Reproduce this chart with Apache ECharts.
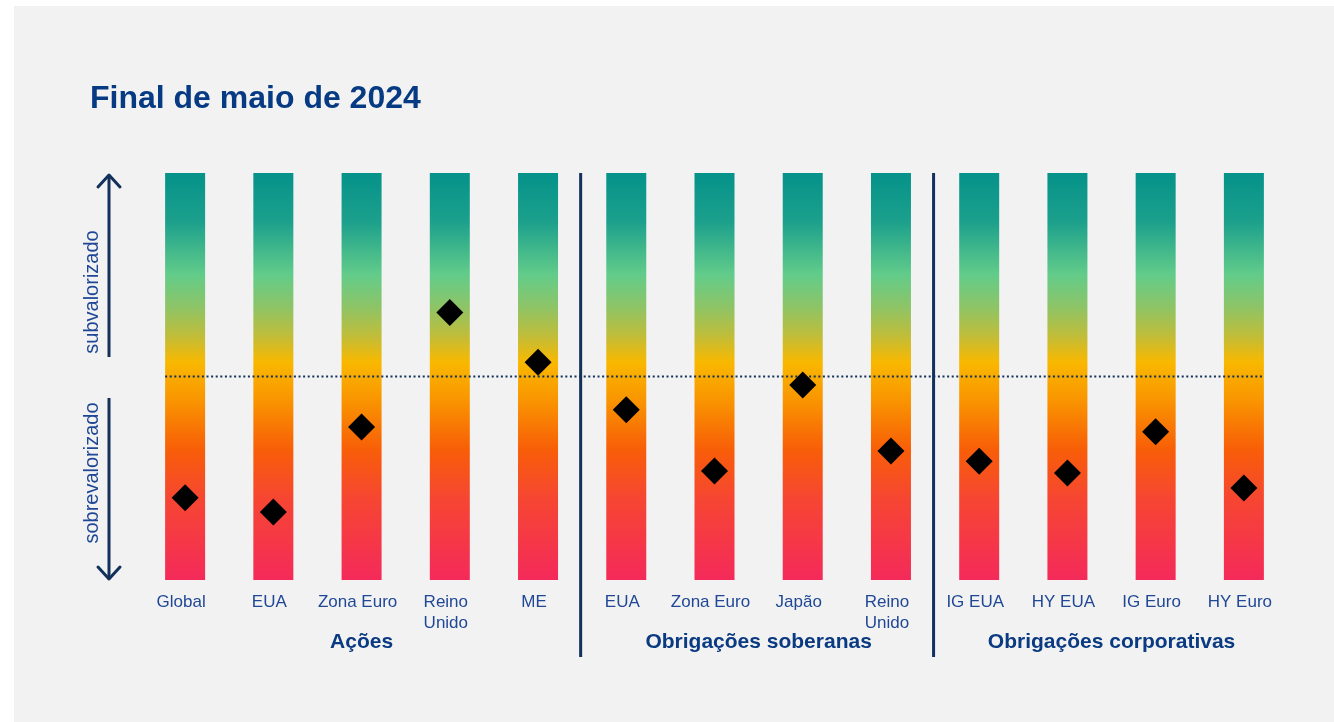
<!DOCTYPE html>
<html>
<head>
<meta charset="utf-8">
<script src="https://cdn.jsdelivr.net/npm/echarts@6/dist/echarts.min.js"></script>
<style>
html,body{margin:0;padding:0;background:#ffffff;}
#chart{width:1334px;height:722px;}
</style>
</head>
<body>
<div id="chart"></div>
<script>
// ---- Data ----
const categories = ['Global','EUA','Zona Euro','Reino\nUnido','ME','EUA','Zona Euro','Japão','Reino\nUnido','IG EUA','HY EUA','IG Euro','HY Euro'];
// valuation position on a 0 (most overvalued) .. 100 (most undervalued) scale, 50 = neutral
const valuations = [20.2, 16.7, 37.6, 65.7, 53.5, 41.8, 26.8, 47.9, 31.7, 29.2, 26.3, 36.4, 22.6];
const scaleMax = 100;
const neutral = 50;
const groupNames = ['Ações','Obrigações soberanas','Obrigações corporativas'];
const groupStart = [0, 5, 9];
const groupEnd = [4, 8, 12];

const FONT = '"Liberation Sans", Arial, sans-serif';
const NAVY = '#13305a';
const LABEL = '#1f4796';
const barW = 40;

const chart = echarts.init(document.getElementById('chart'));

const gradient = new echarts.graphic.LinearGradient(0, 0, 0, 1, [
  {offset: 0.00, color: '#05928a'},
  {offset: 0.12, color: '#1ca08c'},
  {offset: 0.25, color: '#62cc8a'},
  {offset: 0.33, color: '#8ec466'},
  {offset: 0.40, color: '#c0bd3a'},
  {offset: 0.465, color: '#f9b800'},
  {offset: 0.56, color: '#f99400'},
  {offset: 0.68, color: '#f85e08'},
  {offset: 0.80, color: '#f64632'},
  {offset: 1.00, color: '#f42a5a'}
]);

const option = {
  backgroundColor: '#ffffff',
  animation: false,
  title: {
    text: 'Final de maio de 2024',
    left: 85, top: 78,
    textStyle: {fontFamily: FONT, fontSize: 32, fontWeight: 'bold', color: '#063a82'}
  },
  graphic: [
    {type: 'rect', z: -10, shape: {x: 14, y: 6, width: 1320, height: 716}, style: {fill: '#f2f2f2'}},
    // up arrow
    {type: 'polyline', shape: {points: [[109, 357], [109, 176]]}, style: {stroke: NAVY, lineWidth: 3, fill: null}},
    {type: 'polyline', shape: {points: [[98, 187], [109, 175], [120, 187]]}, style: {stroke: NAVY, lineWidth: 3, fill: null, lineCap: 'round', lineJoin: 'round'}},
    // down arrow
    {type: 'polyline', shape: {points: [[109, 398], [109, 578]]}, style: {stroke: NAVY, lineWidth: 3, fill: null}},
    {type: 'polyline', shape: {points: [[98, 567], [109, 579], [120, 567]]}, style: {stroke: NAVY, lineWidth: 3, fill: null, lineCap: 'round', lineJoin: 'round'}},
    {type: 'text', x: 92, y: 292, rotation: Math.PI / 2,
      style: {text: 'subvalorizado', fill: LABEL, font: '20px ' + FONT, align: 'center', verticalAlign: 'middle'}},
    {type: 'text', x: 92, y: 473, rotation: Math.PI / 2,
      style: {text: 'sobrevalorizado', fill: LABEL, font: '20px ' + FONT, align: 'center', verticalAlign: 'middle'}}
  ],
  grid: {left: 141, right: 46, top: 173, bottom: 142},
  xAxis: {
    type: 'category',
    data: categories,
    axisLine: {show: false},
    axisTick: {show: false},
    axisLabel: {interval: 0, color: LABEL, fontFamily: FONT, fontSize: 17, lineHeight: 21, margin: 12,
      padding: [0, 8, 0, 0]}
  },
  yAxis: {type: 'value', min: 0, max: scaleMax, show: false, splitLine: {show: false}},
  series: [
    {
      type: 'bar',
      data: categories.map(() => scaleMax),
      barWidth: barW,
      itemStyle: {color: gradient},
      silent: true,
      z: 1
    },
    {
      type: 'custom',
      z: 3,
      data: [[0, categories.length - 1, neutral]],
      renderItem: function (params, api) {
        const a = api.coord([api.value(0), api.value(2)]);
        const b = api.coord([api.value(1), api.value(2)]);
        return {type: 'line', shape: {x1: a[0] - barW / 2, y1: a[1], x2: b[0] + barW / 2, y2: b[1]},
          style: {stroke: NAVY, lineWidth: 2, lineDash: [2, 2.6]}};
      }
    },
    {
      type: 'custom',
      z: 3,
      clip: false,
      data: groupNames.map((g, i) => [groupStart[i], groupEnd[i]]),
      renderItem: function (params, api) {
        const i = params.dataIndex;
        const s = api.coord([api.value(0), 0]);
        const e = api.coord([api.value(1), 0]);
        const top = api.coord([api.value(0), scaleMax]);
        const band = api.size([1, 0])[0];
        const children = [{
          type: 'text',
          style: {text: groupNames[i], x: (s[0] + e[0]) / 2, y: s[1] + 62, align: 'center', verticalAlign: 'middle',
            fill: '#0a3a82', font: 'bold 21px ' + FONT}
        }];
        if (i > 0) {
          const x = s[0] - band / 2 - 1.5;
          children.push({type: 'line', shape: {x1: x, y1: top[1], x2: x, y2: s[1] + 77},
            style: {stroke: NAVY, lineWidth: 3}});
        }
        return {type: 'group', children: children};
      }
    },
    {
      type: 'scatter',
      data: valuations,
      symbol: 'diamond',
      symbolSize: 27,
      itemStyle: {color: '#000000', opacity: 1},
      z: 5
    }
  ]
};
chart.setOption(option);
</script>
</body>
</html>
